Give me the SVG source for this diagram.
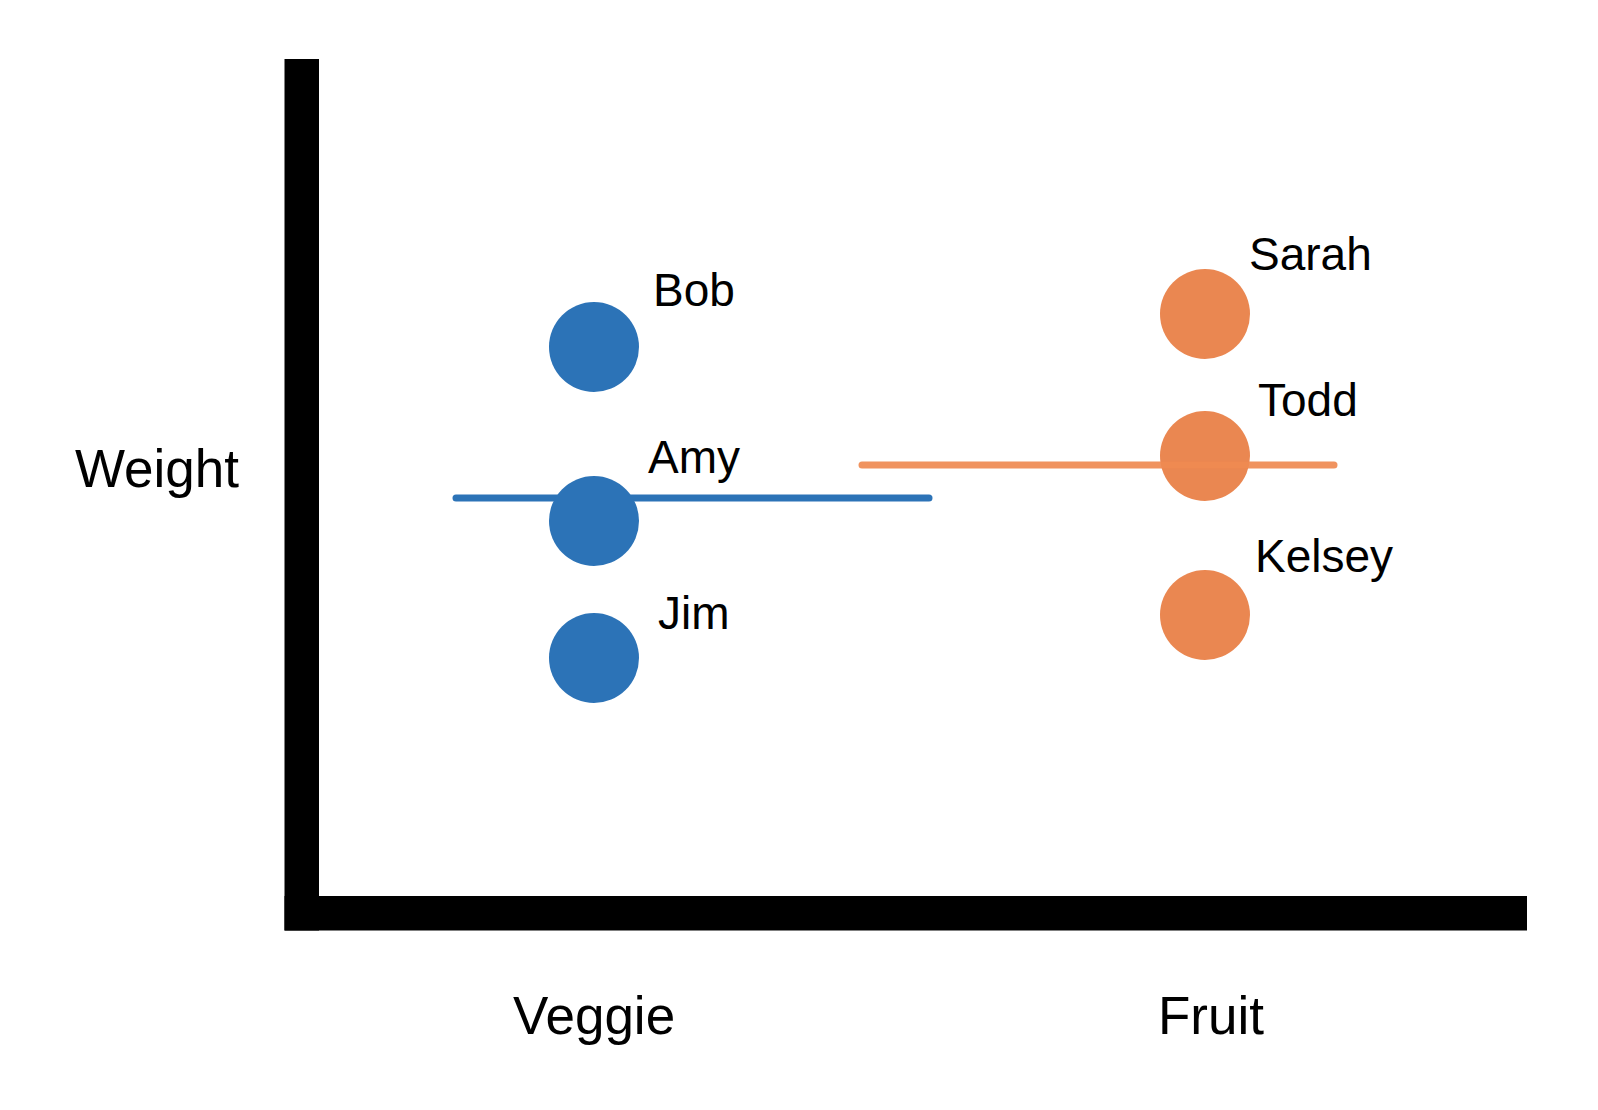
<svg xmlns="http://www.w3.org/2000/svg" width="1598" height="1110" viewBox="0 0 1598 1110">
<style>
text{font-family:"Liberation Sans",Arial,sans-serif;fill:#000}
.lbl{font-size:46px}
.ax{font-size:53px}
.veg{fill:#2C73B7}
.fru{fill:#EA8751}
.mean{stroke-width:7;stroke-linecap:round;fill:none}
</style>
<rect width="1598" height="1110" fill="#fff"/>
<g id="axes">
<rect x="284.5" y="59" width="34.5" height="871.5" fill="#000"/>
<rect x="284.5" y="896" width="1242.5" height="34.5" fill="#000"/>
</g>
<g id="axis-labels">
<text class="ax" x="75" y="487">Weight</text>
<text class="ax" x="513" y="1034">Veggie</text>
<text class="ax" x="1158" y="1034">Fruit</text>
</g>
<g id="connectors">
<line id="veggie-mean" class="mean" x1="456" y1="498" x2="929" y2="498" stroke="#2C73B7"/>
</g>
<g id="bob"><circle class="veg" cx="594" cy="347" r="45"/><text class="lbl" x="653" y="306">Bob</text></g>
<g id="amy"><circle class="veg" cx="594" cy="521" r="45"/><text class="lbl" x="648" y="473">Amy</text></g>
<g id="jim"><circle class="veg" cx="594" cy="658" r="45"/><text class="lbl" x="658" y="629">Jim</text></g>
<g id="sarah"><circle class="fru" cx="1205" cy="314" r="45"/><text class="lbl" x="1249" y="270">Sarah</text></g>
<g id="todd"><circle class="fru" cx="1205" cy="456" r="45"/><text class="lbl" x="1258" y="416">Todd</text></g>
<g id="kelsey"><circle class="fru" cx="1205" cy="615" r="45"/><text class="lbl" x="1255" y="572">Kelsey</text></g>
<g id="connectors-top">
<line id="fruit-mean" class="mean" x1="862" y1="465" x2="1334" y2="465" stroke="#EF8A51" stroke-opacity="0.92"/>
</g>
</svg>
